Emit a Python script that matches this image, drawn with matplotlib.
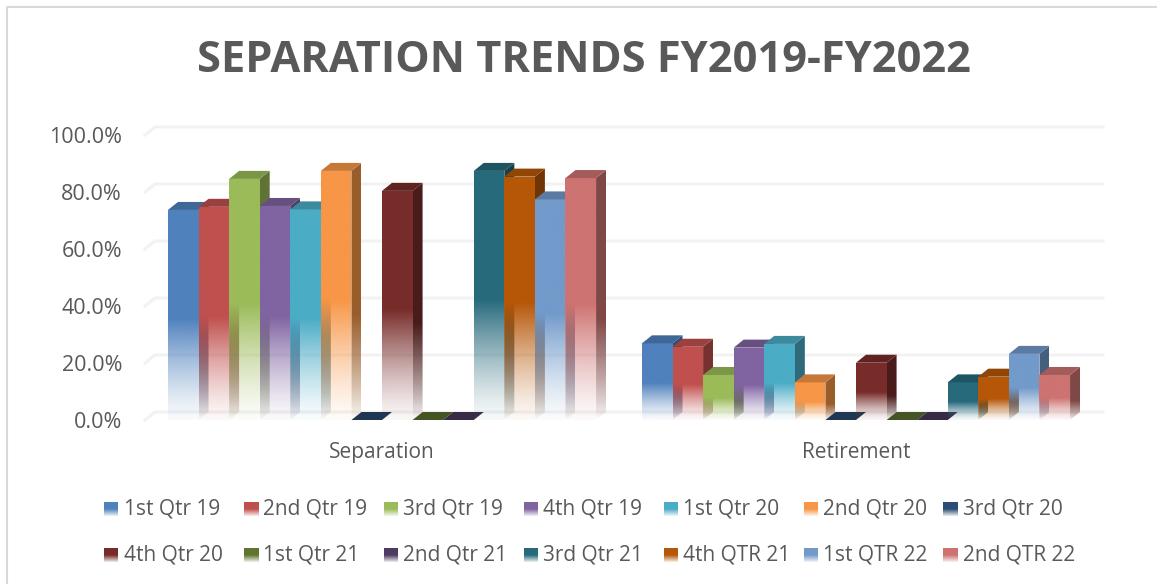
import numpy as np
import matplotlib
matplotlib.use("Agg")
import matplotlib.pyplot as plt
from matplotlib.colors import to_rgb
from matplotlib.lines import Line2D
from matplotlib.patches import Polygon

W, H = 1157, 584

categories = ["Separation", "Retirement"]
series = ["1st Qtr 19", "2nd Qtr 19", "3rd Qtr 19", "4th Qtr 19", "1st Qtr 20", "2nd Qtr 20", "3rd Qtr 20",
          "4th Qtr 20", "1st Qtr 21", "2nd Qtr 21", "3rd Qtr 21", "4th QTR 21", "1st QTR 22", "2nd QTR 22"]
separation = [73.7, 74.8, 84.6, 75.1, 73.9, 87.4, 0, 80.4, 0, 0, 87.4, 85.4, 77.4, 84.9]
retirement = [26.9, 25.7, 15.8, 25.4, 26.7, 13.2, 0, 20.1, 0, 0, 13.2, 15.2, 23.2, 15.8]
colors = ["#4F81BD", "#C0504D", "#9BBB59", "#8064A2", "#4BACC6", "#F79646", "#2C4D75",
          "#772C2A", "#5F7530", "#4D3B62", "#276A7C", "#B65708", "#729ACA", "#CD7371"]
yticks = [0, 20, 40, 60, 80, 100]

text_color = "#595959"
grid_color = "#F2F2F2"
plt.rcParams["font.family"] = ["Open Sans", "DejaVu Sans"]

fig = plt.figure(figsize=(W / 100, H / 100), dpi=100, facecolor="white")

# front plane of the 3d box, in pixels
left, right, y0, y100 = 145, 1093, 420, 135
ax = fig.add_axes([left / W, 1 - y0 / H, (right - left) / W, (y0 - y100) / H])
ax.set_facecolor("none")
for s in ax.spines.values():
    s.set_visible(False)

xlim = (-0.5, 1.5)
ylim = (0, 100)
dx = 10 * 2 / (right - left)
dy = 8 * 100 / (y0 - y100)
bar_w = 1 / 15.5


def shade(c, k):
    return tuple(v * k for v in to_rgb(c))


def fade(color, value, top, steps=160, low=0.04, knee=0.48, power=1.3):
    # alpha ramp: solid above knee * value, almost clear at the floor
    level = np.linspace(top, 0, steps)[:, None]
    alpha = low + (1 - low) * np.clip(level / (knee * value), 0, 1) ** power
    rgba = np.ones((steps, 1, 4))
    rgba[..., :3] = color
    rgba[..., 3] = alpha
    return rgba


def gradient_face(pts, color, value, **kw):
    xs = [p[0] for p in pts]
    top = max(p[1] for p in pts)
    poly = Polygon(pts, closed=True, transform=ax.transData, fc="none", ec="none")
    ax.add_patch(poly)
    im = ax.imshow(fade(color, value, top, **kw), extent=(min(xs), max(xs), 0, top), aspect="auto", zorder=3,
                   interpolation="bilinear")
    im.set_clip_path(poly)


# grid: back wall lines and the short diagonals on the left
for t in yticks:
    ax.plot([xlim[0], xlim[0] + dx, xlim[1] + dx], [t, t + dy, t + dy], color=grid_color, lw=2.2,
            clip_on=False, zorder=1, solid_joinstyle="round")

for i, values in enumerate([separation, retirement]):
    start = i - 7 * bar_w
    for j, v in enumerate(values):
        x = start + j * bar_w
        c = colors[j]
        if v > 0:
            gradient_face([(x + bar_w, 0), (x + bar_w + dx, dy), (x + bar_w + dx, v + dy), (x + bar_w, v)],
                          shade(c, 0.62), v, knee=0.42, power=0.8, low=0.0)
            gradient_face([(x, 0), (x + bar_w, 0), (x + bar_w, v), (x, v)], to_rgb(c), v)
        ax.add_patch(Polygon([(x, v), (x + bar_w, v), (x + bar_w + dx, v + dy), (x + dx, v + dy)],
                             closed=True, fc=shade(c, 0.8 if v > 0 else 0.72), ec="none", zorder=3))

ax.set_xlim(xlim)
ax.set_ylim(ylim)
ax.set_xticks([0, 1], categories, fontsize=15, color=text_color)
ax.set_yticks(yticks, [f"{t:.1f}%" for t in yticks], fontsize=15.5, color=text_color)
ax.tick_params(length=0)
ax.tick_params(axis="x", pad=15.5)
ax.tick_params(axis="y", pad=16.5)

fig.text(583.5 / W, 1 - 60 / H, "SEPARATION TRENDS FY2019-FY2022", ha="center", va="center", fontsize=31.2,
         fontweight="bold", color=text_color)

# legend, two rows on a fixed column grid
for k, name in enumerate(series):
    col, row = k % 7, k // 7
    sx = 104 + col * 139.9
    sy = 502 + row * 46
    sw = fig.add_axes([sx / W, 1 - (sy + 14) / H, 14 / W, 14 / H])
    sw.imshow(fade(to_rgb(colors[k]), 1, 1, low=0.1, knee=0.5, power=1.0), extent=(0, 1, 0, 1), aspect="auto")
    sw.axis("off")
    fig.text((sx + 19.5) / W, 1 - (sy + 7) / H, name, ha="left", va="center", fontsize=15, color=text_color)

# chart border, only top and left show in the crop
border = dict(color="#D9D9D9", lw=1.5, transform=fig.transFigure)
fig.add_artist(Line2D([6.5 / W, 6.5 / W, 1], [0, 1 - 7 / H, 1 - 7 / H], **border))

fig.savefig("out.png", dpi=100)
